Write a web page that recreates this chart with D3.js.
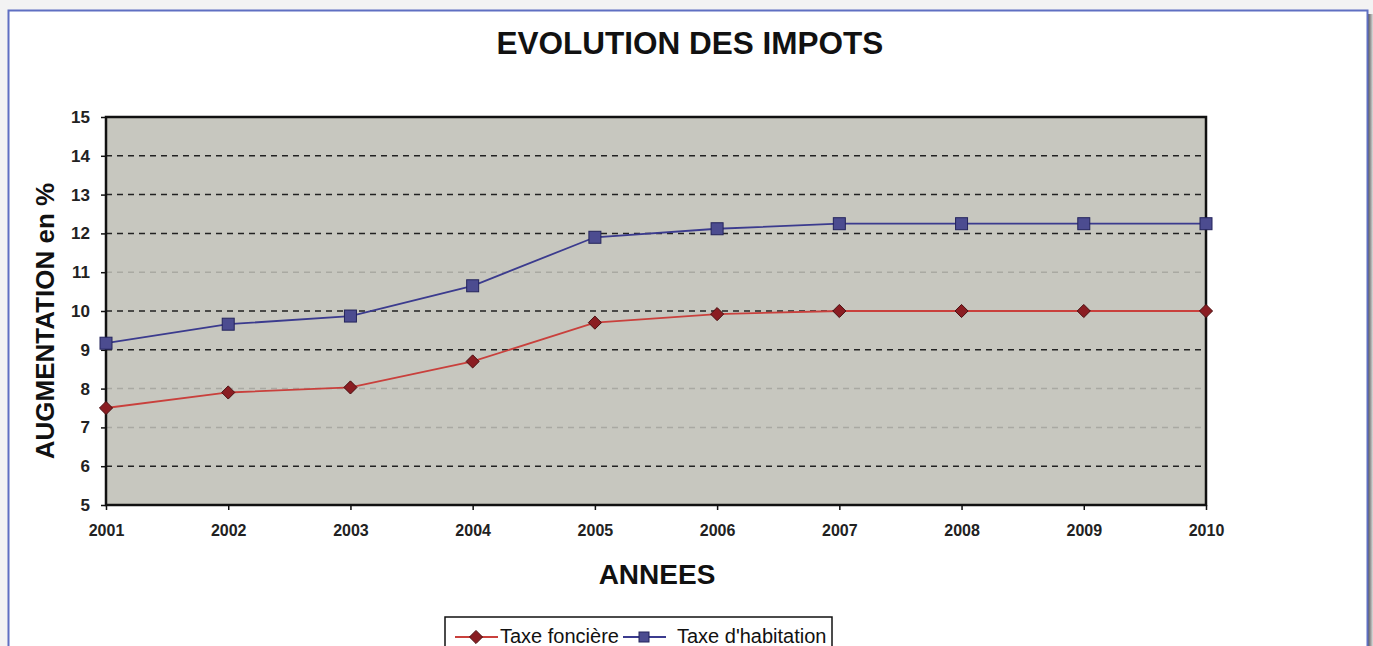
<!DOCTYPE html>
<html>
<head>
	<script src="https://d3js.org/d3.v7.min.js"></script>
	<title>Evolution des impots</title>
	<style>
		body { margin: 0; background: #f3f3f3; }
		text { font-family: "Liberation Sans", Arial, sans-serif; }
	</style>
</head>
<body>
	<svg id="chart" width="1373" height="646"></svg>
	<script>
		// data
		var years = [2001, 2002, 2003, 2004, 2005, 2006, 2007, 2008, 2009, 2010];
		var foncier = [7.5, 7.9, 8.03, 8.7, 9.7, 9.92, 10.0, 10.0, 10.0, 10.0];
		var habitation = [9.17, 9.66, 9.87, 10.65, 11.9, 12.12, 12.25, 12.25, 12.25, 12.25];
		var yTicks = [5, 6, 7, 8, 9, 10, 11, 12, 13, 14, 15];
		var faintTicks = [7, 8, 11];
		var seriesNames = ["Taxe foncière", "Taxe d'habitation"];

		var svg = d3.select("#chart");

		// frame with blue border and right shadow
		var shadow = svg.append("defs").append("linearGradient").attr("id", "shade");
		shadow.append("stop").attr("offset", "0%").attr("stop-color", "#555");
		shadow.append("stop").attr("offset", "100%").attr("stop-color", "#ddd");
		svg.append("rect").attr("x", 1368).attr("y", 14).attr("width", 5).attr("height", 632).attr("fill", "url(#shade)");
		svg.append("rect").attr("x", 8.5).attr("y", 10.5).attr("width", 1359).attr("height", 660)
			.attr("fill", "#fff").attr("stroke", "#5f6fc2").attr("stroke-width", 2);

		var plotLeft = 106, plotRight = 1206, plotTop = 117, plotBottom = 505;
		var x = d3.scaleLinear().domain([2001, 2010]).range([plotLeft, plotRight]);
		var y = d3.scaleLinear().domain([5, 15]).range([plotBottom, plotTop]);

		// plot background
		svg.append("rect").attr("x", plotLeft).attr("y", plotTop)
			.attr("width", plotRight - plotLeft).attr("height", plotBottom - plotTop)
			.attr("fill", "#c7c7bf");

		// gridlines
		svg.append("g").selectAll("line").data(yTicks.filter(d => d > 5 && d < 15)).enter()
			.append("line")
			.attr("x1", plotLeft).attr("x2", plotRight)
			.attr("y1", d => y(d)).attr("y2", d => y(d))
			.attr("stroke", d => faintTicks.indexOf(d) >= 0 ? "#a9a9a2" : "#222")
			.attr("stroke-width", 1.5)
			.attr("stroke-dasharray", "6,5");

		// plot border
		svg.append("rect").attr("x", plotLeft).attr("y", plotTop)
			.attr("width", plotRight - plotLeft).attr("height", plotBottom - plotTop)
			.attr("fill", "none").attr("stroke", "#111").attr("stroke-width", 2.5);

		// axes
		var yAxis = d3.axisLeft(y).tickValues(yTicks).tickSize(5).tickPadding(11);
		var gy = svg.append("g").attr("transform", "translate(" + plotLeft + ",0)").call(yAxis);
		gy.select(".domain").remove();
		gy.selectAll("line").attr("stroke", "#111").attr("stroke-width", 1.5);
		gy.selectAll("text").attr("font-size", 17).attr("font-weight", "bold").attr("fill", "#222")
			.attr("font-family", "'Liberation Sans', Arial, sans-serif");

		var xAxis = d3.axisBottom(x).tickValues(years).tickFormat(d3.format("d")).tickSize(5).tickPadding(15);
		var gx = svg.append("g").attr("transform", "translate(0," + plotBottom + ")").call(xAxis);
		gx.select(".domain").remove();
		gx.selectAll("line").attr("stroke", "#111").attr("stroke-width", 1.5);
		gx.selectAll("text").attr("font-size", 16).attr("font-weight", "bold").attr("fill", "#222")
			.attr("font-family", "'Liberation Sans', Arial, sans-serif");

		// lines
		var line = d3.line().x((d, i) => x(years[i])).y(d => y(d));
		svg.append("path").datum(foncier).attr("d", line)
			.attr("fill", "none").attr("stroke", "#c9403c").attr("stroke-width", 1.8);
		svg.append("path").datum(habitation).attr("d", line)
			.attr("fill", "none").attr("stroke", "#3b3b8e").attr("stroke-width", 1.8);

		// markers
		var diamond = d3.symbol().type(d3.symbolDiamond2).size(110);
		svg.append("g").selectAll("path").data(foncier).enter()
			.append("path")
			.attr("d", diamond)
			.attr("transform", (d, i) => "translate(" + x(years[i]) + "," + y(d) + ")")
			.attr("fill", "#8a1d22").attr("stroke", "#4a0e10").attr("stroke-width", 1);
		svg.append("g").selectAll("rect").data(habitation).enter()
			.append("rect")
			.attr("x", (d, i) => x(years[i]) - 6).attr("y", d => y(d) - 6)
			.attr("width", 12).attr("height", 12)
			.attr("fill", "#4c4c90").attr("stroke", "#24245c").attr("stroke-width", 1);

		// titles
		svg.append("text").attr("x", 690).attr("y", 54).attr("text-anchor", "middle")
			.attr("font-size", 31.5).attr("font-weight", "bold").attr("fill", "#111")
			.text("EVOLUTION DES IMPOTS");
		svg.append("text").attr("x", 657).attr("y", 584).attr("text-anchor", "middle")
			.attr("font-size", 28).attr("font-weight", "bold").attr("fill", "#111")
			.text("ANNEES");
		svg.append("text").attr("transform", "translate(54,321) rotate(-90)").attr("text-anchor", "middle")
			.attr("font-size", 26).attr("font-weight", "bold").attr("fill", "#111")
			.text("AUGMENTATION en %");

		// legend
		var lg = svg.append("g");
		lg.append("rect").attr("x", 445).attr("y", 617).attr("width", 387).attr("height", 40)
			.attr("fill", "#fff").attr("stroke", "#111").attr("stroke-width", 1.5);
		var legendX = [455, 623];
		var textX = [500, 677];
		var colors = ["#c9403c", "#3b3b8e"];
		seriesNames.forEach(function(name, i) {
			lg.append("line").attr("x1", legendX[i]).attr("x2", legendX[i] + 43)
				.attr("y1", 637).attr("y2", 637).attr("stroke", colors[i]).attr("stroke-width", 1.8);
			if (i === 0) {
				lg.append("path").attr("d", diamond).attr("transform", "translate(" + (legendX[i] + 21) + ",637)")
					.attr("fill", "#8a1d22").attr("stroke", "#4a0e10");
			} else {
				lg.append("rect").attr("x", legendX[i] + 16).attr("y", 632).attr("width", 10).attr("height", 10)
					.attr("fill", "#4c4c90").attr("stroke", "#24245c");
			}
			lg.append("text").attr("x", textX[i]).attr("y", 643).attr("font-size", 20).attr("fill", "#111")
				.text(name);
		});
	</script>
</body>
</html>
